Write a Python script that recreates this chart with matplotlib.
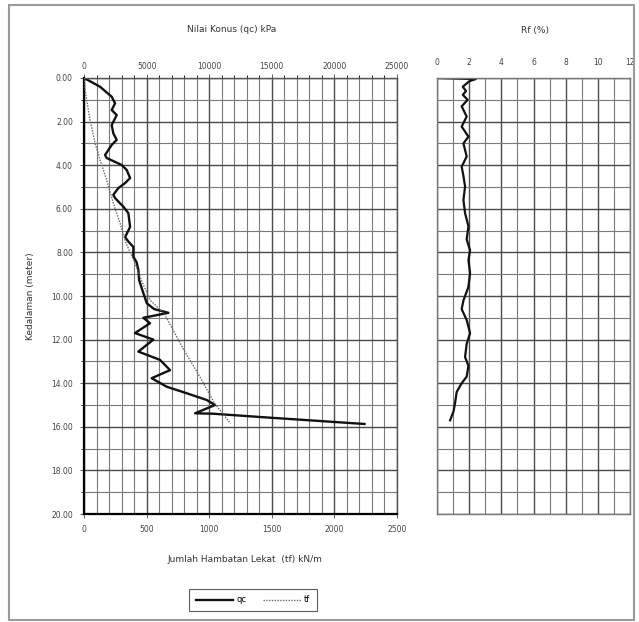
import matplotlib
matplotlib.use("Agg")
import matplotlib.pyplot as plt
from matplotlib.patches import Rectangle
from matplotlib.ticker import MultipleLocator

# qc profile (kPa) vs depth (m)
qc_depth = [0.0, 0.4, 0.86, 1.16, 1.47, 1.7, 2.16, 2.54, 2.84, 3.07, 3.53, 3.67, 3.99, 4.22,
            4.59, 4.82, 5.05, 5.36, 5.51, 5.9, 6.2, 6.83, 7.3, 7.5, 7.75, 8.2, 8.45, 8.8,
            9.27, 9.8, 10.33, 10.6, 10.77, 11.0, 11.25, 11.7, 12.0, 12.55, 12.93, 13.4, 13.77,
            14.16, 14.46, 14.77, 15.0, 15.38, 15.4, 15.55, 15.87]
qc = [0, 1280, 2210, 2480, 2210, 2610, 2210, 2340, 2610, 2210, 1680, 1810, 3010, 3410,
      3680, 3280, 2740, 2340, 2480, 3140, 3540, 3680, 3280, 3540, 3940, 3940, 4200, 4340,
      4400, 4700, 5010, 5600, 6740, 4740, 5270, 4070, 5540, 4340, 6070, 6870, 5400,
      6600, 8200, 9800, 10460, 8870, 10330, 14060, 22400]

# cumulative skin friction tf (kN/m)
tf_depth = [0.0, 0.55, 1.93, 2.98, 3.76, 4.68, 5.74, 6.66, 7.5, 8.4, 9.3, 10.2, 10.8,
            12.5, 13.7, 14.9, 15.85]
tf = [0, 8, 48, 88, 128, 181, 234, 288, 330, 400, 460, 530, 640, 800, 925, 1040, 1170]

# friction ratio Rf (%)
rf_depth = [0.0, 0.05, 0.15, 0.4, 0.6, 0.77, 1.0, 1.3, 1.77, 2.23, 2.69, 3.0, 3.6, 4.07, 4.5,
            4.98, 5.6, 6.2, 6.8, 7.4, 7.9, 8.35, 8.96, 9.58, 10.2, 10.6, 11.1, 11.7, 12.2,
            12.8, 13.2, 13.7, 14.0, 14.4, 14.9, 15.3, 15.7]
rf = [0.0, 2.4, 2.0, 1.6, 1.8, 1.6, 1.9, 1.53, 1.84, 1.53, 1.95, 1.64, 1.84, 1.53, 1.64,
      1.74, 1.64, 1.74, 1.95, 1.84, 2.05, 1.95, 2.05, 1.95, 1.64, 1.53, 1.84, 2.05, 1.84,
      1.74, 1.95, 1.84, 1.53, 1.22, 1.12, 1.02, 0.81]

depth_ticks = list(range(0, 21, 2))
fs = 5.5
tick_col = "#444444"
text_col = "#333333"

fig = plt.figure(figsize=(6.39, 6.22), dpi=100)

def style_grid(a, xmaj, xmin):
    a.xaxis.set_major_locator(MultipleLocator(xmaj))
    a.xaxis.set_minor_locator(MultipleLocator(xmin))
    a.yaxis.set_major_locator(MultipleLocator(2))
    a.yaxis.set_minor_locator(MultipleLocator(1))
    a.grid(which="major", color="#4a4a4a", lw=1.0)
    a.grid(which="minor", color="#7a7a7a", lw=0.8)
    a.set_axisbelow(True)

# left panel: qc (top axis) and tf (bottom axis)
ax = fig.add_axes([0.1315, 0.1736, 0.4898, 0.701])
ax.set_xlim(0, 25000)
ax.set_ylim(20, 0)
style_grid(ax, 5000, 1000)
ax.set_yticks(depth_ticks)
ax.set_yticklabels(["%.2f" % d for d in depth_ticks])
ax.set_ylabel("Kedalaman (meter)", fontsize=6.5, color=text_col, labelpad=12)
for s in ["left", "bottom"]:
    ax.spines[s].set_linewidth(1.6)
    ax.spines[s].set_color("black")
for s in ["top", "right"]:
    ax.spines[s].set_linewidth(1.0)
    ax.spines[s].set_color("#555555")
l1, = ax.plot(qc, qc_depth, color="#111111", lw=1.7, label="qc")

ax2 = ax.twiny()
ax2.set_xlim(0, 2500)
ax2.xaxis.set_ticks_position("bottom")
ax2.xaxis.set_label_position("bottom")
ax2.set_xticks(range(0, 2501, 500))
ax2.tick_params(labelsize=fs, colors=tick_col, length=3, width=0.6, pad=5)
for s in ax2.spines.values():
    s.set_visible(False)
l2, = ax2.plot(tf, tf_depth, color="#666666", lw=1.0, ls=(0, (1, 1)), label="tf")

# twiny moves the first axis' ticks to the bottom, put them back on top
ax.xaxis.tick_top()
ax.set_xticks(range(0, 25001, 5000))
ax.set_xticklabels([str(v) for v in range(0, 25001, 5000)])
ax.tick_params(labelsize=fs, colors=tick_col, length=3, width=0.6, pad=2)
ax.tick_params(axis="y", pad=5)
ax.tick_params(which="minor", length=2, width=0.6)

fig.text(232 / 639, 1 - 30 / 622, "Nilai Konus (qc) kPa", fontsize=6.5, color=text_col,
         ha="center", va="center")
fig.text(245 / 639, 1 - 560 / 622, "Jumlah Hambatan Lekat  (tf) kN/m", fontsize=6.5,
         color=text_col, ha="center", va="center")

leg = fig.legend(handles=[l1, l2], loc="center", bbox_to_anchor=(253 / 639, 1 - 600 / 622),
                 ncol=2, fontsize=6, frameon=True, fancybox=False, handlelength=4.5,
                 columnspacing=2.0, borderpad=0.8, handletextpad=0.4)
leg.get_frame().set_edgecolor("#333333")
leg.get_frame().set_linewidth(0.8)

# right panel: Rf
axr = fig.add_axes([0.684, 0.1736, 0.302, 0.701])
axr.set_xlim(0, 12)
axr.set_ylim(20, 0)
style_grid(axr, 2, 1)
axr.xaxis.tick_top()
axr.set_xticks(range(0, 13, 2))
axr.tick_params(labelsize=fs, colors=tick_col, length=0, pad=8)
axr.tick_params(axis="y", labelleft=False, length=0)
axr.tick_params(which="minor", length=0)
for s in axr.spines.values():
    s.set_color("#777777")
    s.set_linewidth(1.0)
axr.plot(rf, rf_depth, color="#111111", lw=1.6)
fig.text(535 / 639, 1 - 30 / 622, "Rf (%)", fontsize=6.5, color=text_col,
         ha="center", va="center")

# outer frame
fig.patches.append(Rectangle((9 / 639, 2 / 622), 625 / 639, 615 / 622, transform=fig.transFigure,
                             fill=False, edgecolor="#9a9a9a", lw=1.5))

fig.savefig("out.png", dpi=100)
